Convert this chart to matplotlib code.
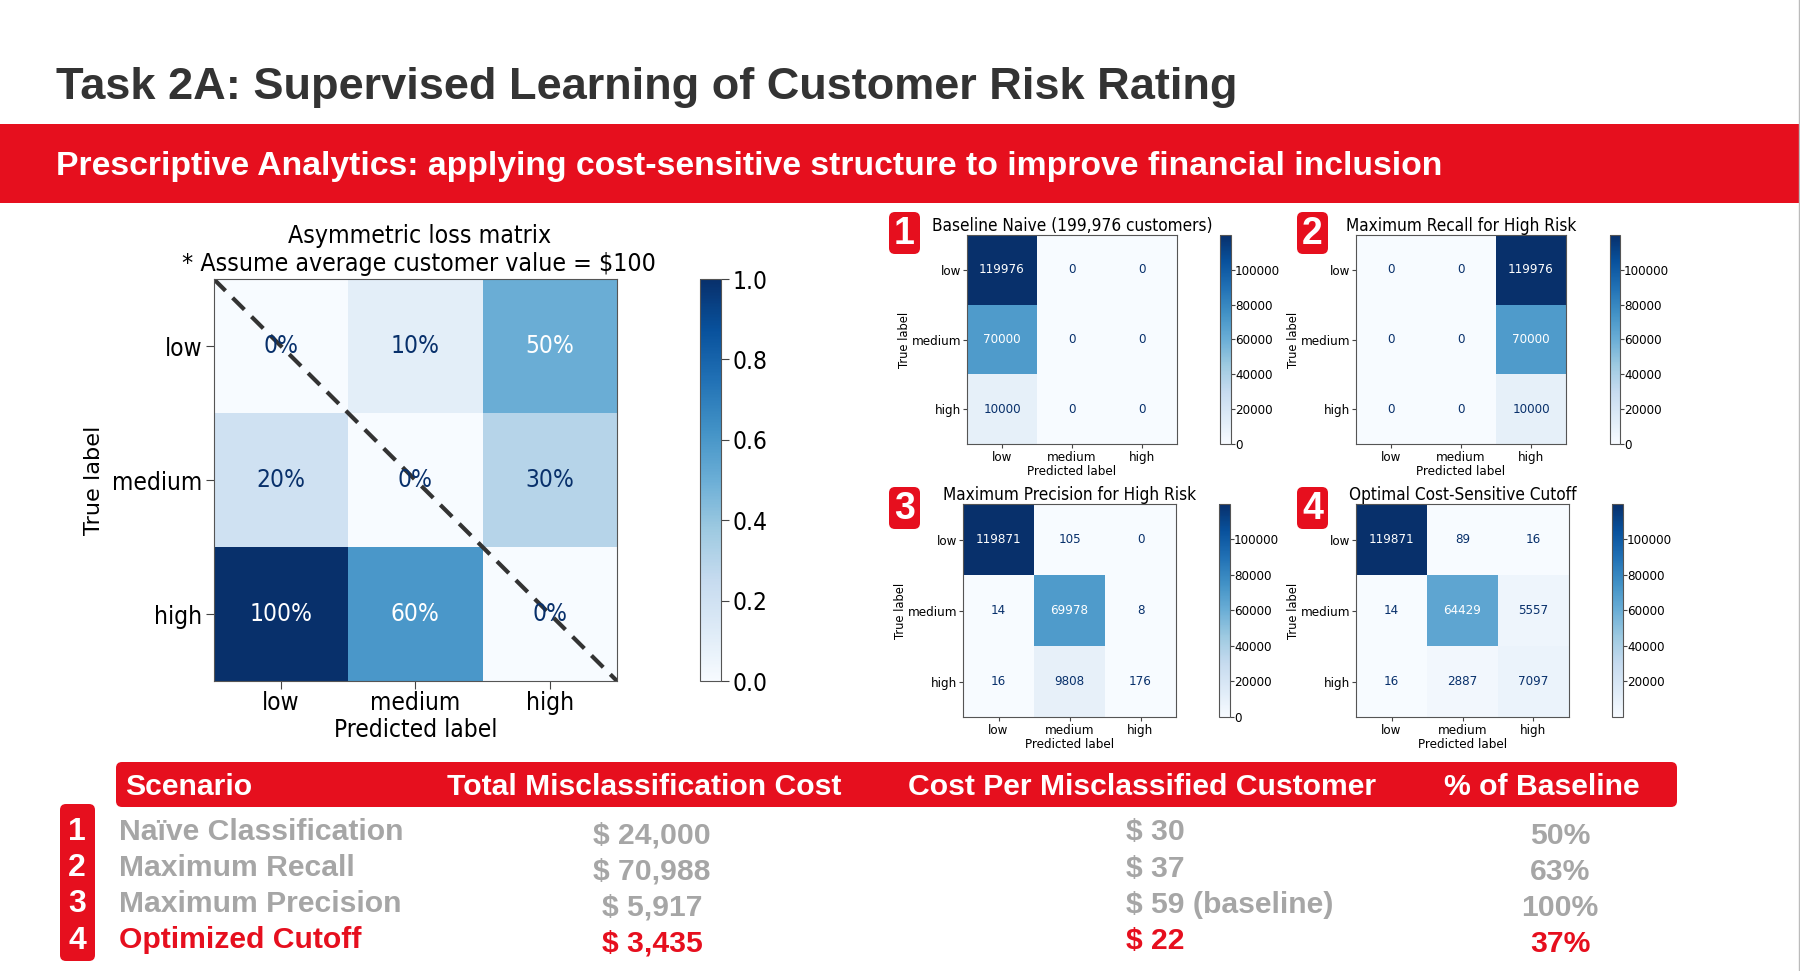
import matplotlib
matplotlib.use('Agg')
import matplotlib.pyplot as plt
from matplotlib.patches import FancyBboxPatch, Rectangle

RED = '#e60f1e'
GRAY = '#a6a6a6'
DARK = '#08306b'

labels = ['low', 'medium', 'high']

loss_matrix = [[0.0, 0.1, 0.5],
               [0.2, 0.0, 0.3],
               [1.0, 0.6, 0.0]]

cm_naive = [[119976, 0, 0],
            [70000, 0, 0],
            [10000, 0, 0]]
cm_recall = [[0, 0, 119976],
             [0, 0, 70000],
             [0, 0, 10000]]
cm_precision = [[119871, 105, 0],
                [14, 69978, 8],
                [16, 9808, 176]]
cm_optimal = [[119871, 89, 16],
              [14, 64429, 5557],
              [16, 2887, 7097]]

panel_titles = ['Baseline Naive (199,976 customers)', 'Maximum Recall for High Risk',
                'Maximum Precision for High Risk', 'Optimal Cost-Sensitive Cutoff']

header = ['Scenario', 'Total Misclassification Cost', 'Cost Per Misclassified Customer', '% of Baseline']
scenarios = ['Naïve Classification', 'Maximum Recall', 'Maximum Precision', 'Optimized Cutoff']
total_cost = ['$ 24,000', '$ 70,988', '$ 5,917', '$ 3,435']
unit_cost = ['$ 30', '$ 37', '$ 59 (baseline)', '$ 22']
pct_baseline = ['50%', '63%', '100%', '37%']

W, H = 1800, 971
fig = plt.figure(figsize=(18, 9.71), dpi=100)
plt.rcParams['font.family'] = 'DejaVu Sans'
plt.rcParams['font.stretch'] = 'condensed'


def axes_px(x0, y0, x1, y1):
    return fig.add_axes([x0 / W, 1 - y1 / H, (x1 - x0) / W, (y1 - y0) / H])


def heatmap(box, cbar_box, cm, title, fmt, fs, title_fs, ylabel_fs, tick_len, pad, ypad, lpad, ylpad, tpad, cpad):
    ax = axes_px(*box)
    flat = [v for row in cm for v in row]
    lo, hi = min(flat), max(flat)
    im = ax.imshow(cm, cmap='Blues', vmin=lo, vmax=hi, aspect='auto')
    for i, row in enumerate(cm):
        for j, v in enumerate(row):
            ax.text(j, i, fmt(v), ha='center', va='center', fontsize=fs,
                    color='white' if v >= (lo + hi) / 2 else DARK)
    ax.set_xticks(range(3), labels)
    ax.set_yticks(range(3), labels)
    ax.tick_params(labelsize=fs, length=tick_len, width=0.8, color='#444444')
    ax.tick_params(axis='x', pad=pad)
    ax.tick_params(axis='y', pad=ypad)
    ax.set_xlabel('Predicted label', fontsize=fs, labelpad=lpad)
    ax.set_ylabel('True label', fontsize=ylabel_fs, labelpad=ylpad, stretch='normal')
    ax.set_title(title, fontsize=title_fs, pad=tpad)
    for s in ax.spines.values():
        s.set_color('#555555')
    cax = axes_px(*cbar_box)
    cb = fig.colorbar(im, cax=cax)
    cb.ax.tick_params(labelsize=fs, length=tick_len, width=0.8, pad=cpad, color='#444444')
    cb.outline.set_edgecolor('#555555')
    return ax


# slide background layer in pixel coordinates
bg = fig.add_axes([0, 0, 1, 1])
bg.set_xlim(0, W)
bg.set_ylim(H, 0)
bg.axis('off')

bold = ['Liberation Sans', 'DejaVu Sans']


def txt(x, y, s, size, color, ha='left'):
    bg.text(x, y, s, fontsize=size, color=color, ha=ha, va='center',
            family=bold, weight='bold', stretch='normal')


def badge(x0, y0, x1, y1, s=None):
    bg.add_patch(FancyBboxPatch((x0 + 6, y0 + 6), x1 - x0 - 12, y1 - y0 - 12,
                                boxstyle='round,pad=6,rounding_size=6', fc=RED, ec='none'))
    if s:
        txt((x0 + x1) / 2, (y0 + y1) / 2 + 1, s, 27, 'white', ha='center')


txt(56, 87, 'Task 2A: Supervised Learning of Customer Risk Rating', 32.5, '#333333')
bg.add_patch(Rectangle((0, 124), W, 79, fc=RED, ec='none'))
txt(56, 167, 'Prescriptive Analytics: applying cost-sensitive structure to improve financial inclusion',
    24.3, 'white')
bg.plot([1799, 1799], [0, H], color='#bbbbbb', lw=1)

# main loss matrix
ax = heatmap((213.7, 279, 617, 681), (700, 279, 721, 681), loss_matrix,
             'Asymmetric loss matrix\n* Assume average customer value = $100',
             lambda v: f'{v:.0%}', 17.6, 17.8, 16.2, 6, 1.5, 2, 1.5, 6, 6, 2)
ax.title.set_x(0.51)
ax.plot([-0.5, 2.5], [-0.5, 2.5], color='#333333', lw=3, ls=(0, (4, 2.4)))
ax.set_xlim(-0.5, 2.5)
ax.set_ylim(2.5, -0.5)

# scenario panels
small = (9.5, 12.3, 8.3, 3, 2, 1, 1, 1, 2.5, 0)
heatmap((967, 235, 1177, 444), (1220, 235, 1231, 444), cm_naive, panel_titles[0], str, *small)
heatmap((1356, 235, 1566, 444), (1610, 235, 1620, 444), cm_recall, panel_titles[1], str, *small)
heatmap((963, 504, 1176, 717), (1219, 504, 1230, 717), cm_precision, panel_titles[2], str, *small)
heatmap((1356, 504, 1569, 717), (1612, 504, 1623, 717), cm_optimal, panel_titles[3], str, *small)

badge(889, 212, 920, 254, '1')
badge(1297, 212, 1328, 254, '2')
badge(889, 487, 920, 529, '3')
badge(1297, 487, 1328, 529, '4')

# table
badge(116, 762, 1677, 807)
badge(60, 804, 95, 961)
txt(125, 787, header[0], 21.7, 'white')
txt(644, 787, header[1], 21.7, 'white', ha='center')
txt(1142, 787, header[2], 21.7, 'white', ha='center')
txt(1542, 787, header[3], 21.7, 'white', ha='center')

name_y = [832, 868, 904, 940]
total_y = [835, 871, 908, 944]
unit_y = [832, 869, 905, 941]
pct_y = [836, 872, 908, 944]
num_y = [832, 868, 904, 941]
for i in range(4):
    c = RED if i == 3 else GRAY
    txt(119, name_y[i], scenarios[i], 21.7, c)
    txt(652, total_y[i], total_cost[i], 21.7, c, ha='center')
    txt(1126, unit_y[i], unit_cost[i], 21.7, c)
    txt(1560, pct_y[i], pct_baseline[i], 21.7, c, ha='center')
    txt(77, num_y[i], str(i + 1), 23, 'white', ha='center')

fig.savefig('out.png', dpi=100)
